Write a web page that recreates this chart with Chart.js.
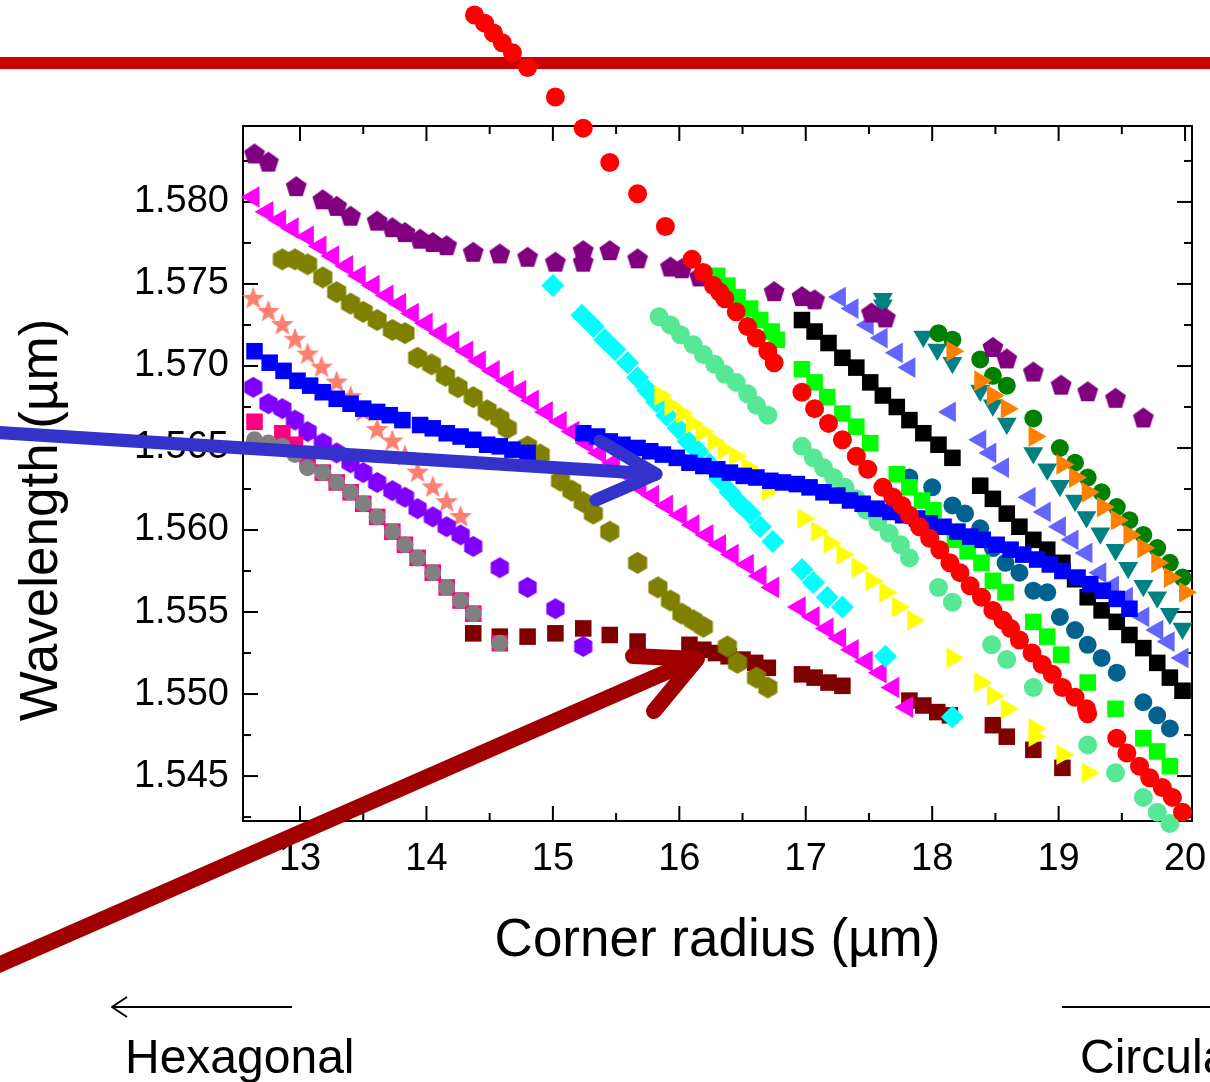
<!DOCTYPE html>
<html>
<head>
<meta charset="utf-8">
<script src="https://cdn.jsdelivr.net/npm/chart.js@4.4.1/dist/chart.umd.min.js"></script>
<style>
html,body{margin:0;padding:0;background:#fff;}
canvas{display:block;}
</style>
</head>
<body>
<canvas id="c" width="1210" height="1082"></canvas>
<script>
// ---------------- DATA (corner radius in µm, wavelength in µm) ----------------
const xTickValues = [13, 14, 15, 16, 17, 18, 19, 20];
const xMinorTickValues = [13.5, 14.5, 15.5, 16.5, 17.5, 18.5, 19.5];
const yTickValues = [1.545, 1.550, 1.555, 1.560, 1.565, 1.570, 1.575, 1.580];
const yMinorTickValues = [1.5425, 1.5475, 1.5525, 1.5575, 1.5625, 1.5675, 1.5725, 1.5775, 1.5825];

const purplePentagons = [[12.64,1.5829],[12.75,1.5824],[12.97,1.5809],[13.18,1.5801],[13.29,1.5797],[13.40,1.5791],[13.61,1.5788],[13.73,1.5784],[13.83,1.5781],[13.95,1.5777],[14.05,1.5775],[14.16,1.5773],[14.37,1.5769],[14.58,1.5768],[14.80,1.5766],[15.02,1.5763],[15.24,1.5770],[15.24,1.5763],[15.45,1.5770],[15.67,1.5765],[15.93,1.5760],[16.02,1.5759],[16.16,1.5754],[16.75,1.5745],[16.97,1.5742],[17.07,1.5740],[17.52,1.5732],[17.63,1.5729],[18.48,1.5711],[18.59,1.5704],[18.80,1.5696],[19.02,1.5688],[19.23,1.5684],[19.45,1.5680],[19.67,1.5668]];

const magentaTriangles = [[12.63,1.5803],[12.74,1.5794],[12.84,1.5789],[12.94,1.5784],[13.06,1.5779],[13.16,1.5773],[13.26,1.5767],[13.37,1.5761],[13.47,1.5755],[13.58,1.5749],[13.69,1.5743],[13.79,1.5738],[13.89,1.5732],[14.00,1.5726],[14.11,1.5720],[14.21,1.5715],[14.32,1.5709],[14.42,1.5703],[14.53,1.5697],[14.64,1.5691],[14.74,1.5685],[14.84,1.5679],[14.95,1.5672],[15.06,1.5666],[15.16,1.5660],[15.27,1.5653],[15.37,1.5647],[15.48,1.5641],[15.59,1.5634],[15.69,1.5626],[15.79,1.5621],[15.90,1.5615],[16.01,1.5609],[16.11,1.5603],[16.22,1.5597],[16.32,1.5591],[16.42,1.5585],[16.54,1.5579],[16.64,1.5572],[16.74,1.5565],[16.95,1.5553],[17.06,1.5547],[17.17,1.5540],[17.27,1.5534],[17.37,1.5527],[17.48,1.5520],[17.59,1.5513],[17.69,1.5504],[17.80,1.5492]];

const oliveHexagons = [[12.86,1.5765],[12.96,1.5765],[13.06,1.5762],[13.18,1.5754],[13.29,1.5745],[13.40,1.5738],[13.50,1.5733],[13.61,1.5728],[13.73,1.5722],[13.83,1.5720],[13.93,1.5705],[14.04,1.5701],[14.15,1.5694],[14.25,1.5687],[14.37,1.5681],[14.48,1.5673],[14.58,1.5668],[14.64,1.5662],[14.80,1.5651],[14.90,1.5646],[15.06,1.5630],[15.15,1.5624],[15.24,1.5617],[15.32,1.5610],[15.45,1.5599],[15.67,1.5580],[15.83,1.5565],[15.93,1.5557],[16.02,1.5549],[16.11,1.5545],[16.19,1.5541],[16.38,1.5529],[16.46,1.5519],[16.61,1.5510],[16.70,1.5504]];

const salmonStars = [[12.63,1.5741],[12.75,1.5733],[12.86,1.5725],[12.96,1.5716],[13.06,1.5707],[13.17,1.5699],[13.29,1.5690],[13.40,1.5681],[13.50,1.5672],[13.61,1.5661],[13.73,1.5654],[13.83,1.5645],[13.93,1.5635],[14.05,1.5626],[14.16,1.5617],[14.27,1.5608]];

const blueSquares = [[12.64,1.5709],[12.76,1.5702],[12.87,1.5697],[12.98,1.5691],[13.08,1.5688],[13.18,1.5684],[13.29,1.5680],[13.40,1.5677],[13.50,1.5674],[13.61,1.5672],[13.71,1.5670],[13.81,1.5667],[13.95,1.5664],[14.05,1.5662],[14.16,1.5659],[14.27,1.5657],[14.37,1.5655],[14.48,1.5652],[14.58,1.5651],[14.68,1.5649],[14.80,1.5647],
  [15.24,1.5659],[15.35,1.5657],[15.45,1.5654],[15.55,1.5652],[15.67,1.5650],[15.77,1.5648],[15.87,1.5646],[15.98,1.5644],[16.08,1.5641],[16.19,1.5639],[16.30,1.5637],[16.40,1.5635],[16.51,1.5633],[16.61,1.5632],[16.72,1.5630],[16.82,1.5629],
  [16.93,1.5628],[17.03,1.5626],[17.14,1.5623],[17.25,1.5621],[17.35,1.5618],[17.45,1.5616],[17.56,1.5613],[17.67,1.5611],[17.77,1.5609],[17.88,1.5607],[17.98,1.5604],[18.09,1.5602],[18.20,1.5599],[18.30,1.5596],[18.40,1.5594],[18.51,1.5591],[18.62,1.5588],[18.72,1.5585],[18.83,1.5582],[18.93,1.5579],[19.03,1.5575],[19.15,1.5571],[19.25,1.5567],[19.35,1.5563],[19.46,1.5558],[19.56,1.5552]];

const violetHexagons = [[12.63,1.5687],[12.75,1.5677],[12.86,1.5674],[12.96,1.5667],[13.06,1.5660],[13.18,1.5653],[13.29,1.5647],[13.40,1.5641],[13.50,1.5635],[13.61,1.5629],[13.73,1.5624],[13.83,1.5620],[13.93,1.5613],[14.05,1.5608],[14.16,1.5602],[14.27,1.5597],[14.37,1.5590],[14.58,1.5577],[14.80,1.5565],[15.02,1.5552],[15.24,1.5529]];

const pinkSquares = [[12.64,1.5666],[12.86,1.5659],[12.96,1.5652],[13.06,1.5643],[13.18,1.5635],[13.29,1.5629],[13.40,1.5623],[13.50,1.5616],[13.61,1.5608],[13.73,1.5599],[13.83,1.5591],[13.93,1.5583],[14.05,1.5574],[14.16,1.5565],[14.27,1.5557],[14.37,1.5549],[14.58,1.5531]];

const grayCircles = [[12.64,1.5655],[12.75,1.5653],[12.86,1.5651],[12.96,1.5646],[13.06,1.5638],[13.18,1.5635],[13.29,1.5629],[13.40,1.5623],[13.50,1.5616],[13.61,1.5608],[13.73,1.5599],[13.83,1.5591],[13.93,1.5583],[14.05,1.5574],[14.16,1.5565],[14.27,1.5557],[14.37,1.5549],[14.58,1.5531]];

const maroonSquares = [[14.37,1.5537],[14.58,1.5535],[14.80,1.5535],[15.02,1.5537],[15.24,1.5540],[15.45,1.5536],[15.67,1.5532],[16.08,1.5530],[16.19,1.5527],[16.29,1.5525],[16.39,1.5523],[16.50,1.5521],[16.60,1.5519],[16.70,1.5516],[16.97,1.5512],[17.07,1.5510],[17.18,1.5507],[17.29,1.5505],[17.82,1.5496],[17.93,1.5493],[18.04,1.5489],[18.14,1.5487],[18.48,1.5481],[18.59,1.5474],[18.80,1.5466],[19.03,1.5455]];

const cyanDiamonds = [[15.00,1.5749],[15.23,1.5731],[15.32,1.5724],[15.41,1.5716],[15.49,1.5710],[15.59,1.5702],[15.67,1.5693],[15.75,1.5685],[15.82,1.5678],[15.90,1.5670],[15.99,1.5662],[16.07,1.5654],[16.15,1.5648],[16.24,1.5640],[16.32,1.5631],[16.40,1.5623],[16.48,1.5616],[16.56,1.5610],[16.64,1.5602],[16.74,1.5593],[16.97,1.5576],[17.06,1.5568],[17.17,1.5559],[17.29,1.5553],[17.63,1.5523],[18.16,1.5486]];

const redCircles = [[14.38,1.5914],[14.46,1.5909],[14.53,1.5903],[14.60,1.5897],[14.68,1.5891],[14.80,1.5882],[15.02,1.5864],[15.24,1.5845],[15.45,1.5824],[15.67,1.5805],[15.89,1.5785],[16.10,1.5765],[16.19,1.5757],[16.27,1.5749],[16.32,1.5745],[16.36,1.5741],[16.45,1.5733],[16.54,1.5724],[16.61,1.5717],[16.70,1.5709],[16.75,1.5702],
  [16.97,1.5684],[17.07,1.5674],[17.18,1.5665],[17.29,1.5655],[17.40,1.5645],[17.49,1.5637],[17.61,1.5626],[17.69,1.5620],[17.76,1.5615],[17.82,1.5609],[17.90,1.5602],[17.98,1.5595],[18.06,1.5588],[18.14,1.5580],[18.22,1.5574],[18.30,1.5566],[18.39,1.5559],[18.48,1.5551],[18.56,1.5545],[18.62,1.5540],[18.69,1.5533],[18.79,1.5525],[18.87,1.5518],[18.95,1.5512],[19.03,1.5504],[19.13,1.5498],[19.22,1.5491],[19.23,1.5488],
  [19.46,1.5473],[19.54,1.5464],[19.64,1.5456],[19.72,1.5449],[19.82,1.5443],[19.90,1.5437],[19.98,1.5428]];

const greenSquares = [[16.30,1.5755],[16.38,1.5749],[16.46,1.5742],[16.56,1.5735],[16.64,1.5728],[16.73,1.5721],[16.77,1.5716],[16.97,1.5698],[17.07,1.5690],[17.17,1.5681],[17.29,1.5671],[17.40,1.5663],[17.51,1.5653],[17.72,1.5634],[17.82,1.5626],[17.92,1.5618],[18.01,1.5612],[18.18,1.5594],[18.28,1.5587],[18.39,1.5580],[18.48,1.5569],[18.58,1.5562],[18.80,1.5544],[18.91,1.5535],[19.02,1.5524],[19.23,1.5507],[19.45,1.5491],[19.67,1.5473],[19.78,1.5465],[19.88,1.5456]];

const aquaCircles = [[15.84,1.5730],[15.93,1.5725],[16.01,1.5719],[16.11,1.5713],[16.19,1.5707],[16.28,1.5701],[16.36,1.5695],[16.45,1.5690],[16.54,1.5683],[16.61,1.5676],[16.70,1.5670],[16.97,1.5651],[17.06,1.5644],[17.14,1.5638],[17.22,1.5632],[17.31,1.5626],[17.40,1.5619],[17.48,1.5612],[17.57,1.5605],[17.66,1.5598],[17.75,1.5591],[17.82,1.5583],[18.05,1.5565],[18.16,1.5556],[18.47,1.5530],[18.59,1.5521],[18.80,1.5504],[19.23,1.5469],[19.45,1.5452],[19.67,1.5437],[19.78,1.5428],[19.88,1.5421]];

const yellowTriangles = [[15.85,1.5682],[15.93,1.5676],[16.02,1.5671],[16.10,1.5665],[16.18,1.5660],[16.27,1.5654],[16.35,1.5649],[16.44,1.5645],[16.54,1.5638],[16.61,1.5633],[16.70,1.5624],[16.98,1.5607],[17.09,1.5599],[17.19,1.5592],[17.29,1.5585],[17.41,1.5577],[17.52,1.5569],[17.63,1.5562],[17.73,1.5553],[17.85,1.5545],[18.16,1.5522],[18.38,1.5507],[18.48,1.5499],[18.59,1.5491],[18.81,1.5479],[18.81,1.5474],[19.03,1.5463],[19.23,1.5452]];

const blackSquares = [[16.97,1.5728],[17.07,1.5721],[17.18,1.5714],[17.29,1.5705],[17.40,1.5699],[17.51,1.5690],[17.61,1.5682],[17.72,1.5675],[17.82,1.5667],[17.93,1.5659],[18.05,1.5652],[18.16,1.5644],[18.38,1.5627],[18.48,1.5619],[18.59,1.5610],[18.69,1.5602],[18.80,1.5594],[18.91,1.5588],[19.03,1.5580],[19.13,1.5570],[19.23,1.5559],[19.34,1.5551],[19.46,1.5544],[19.56,1.5536],[19.67,1.5528],[19.78,1.5519],[19.88,1.5510],[19.98,1.5502]];

const slateTriangles = [[17.27,1.5742],[17.37,1.5735],[17.49,1.5725],[17.60,1.5717],[17.72,1.5708],[17.82,1.5699],[18.14,1.5672],[18.38,1.5655],[18.46,1.5647],[18.56,1.5638],[18.77,1.5620],[18.89,1.5611],[19.01,1.5602],[19.11,1.5594],[19.22,1.5586],[19.33,1.5574],[19.43,1.5566],[19.54,1.5559],[19.67,1.5547],[19.78,1.5539],[19.87,1.5532],[19.98,1.5522]];

const tealTriangles = [[17.61,1.5741],[17.61,1.5737],[17.93,1.5718],[18.04,1.5710],[18.16,1.5702],[18.38,1.5685],[18.48,1.5676],[18.59,1.5665],[18.80,1.5647],[18.91,1.5637],[19.01,1.5627],[19.13,1.5618],[19.22,1.5608],[19.33,1.5598],[19.45,1.5588],[19.55,1.5577],[19.67,1.5566],[19.78,1.5559],[19.88,1.5549],[19.98,1.5540]];

const darkGreenCircles = [[18.05,1.5720],[18.16,1.5716],[18.38,1.5704],[18.48,1.5694],[18.59,1.5688],[18.80,1.5668],[19.01,1.5650],[19.13,1.5641],[19.23,1.5632],[19.34,1.5623],[19.46,1.5614],[19.56,1.5606],[19.67,1.5597],[19.78,1.5589],[19.88,1.5580],[19.98,1.5571]];

const orangeTriangles = [[18.16,1.5709],[18.38,1.5691],[18.48,1.5682],[18.59,1.5674],[18.81,1.5657],[19.03,1.5640],[19.13,1.5632],[19.23,1.5623],[19.35,1.5614],[19.46,1.5606],[19.56,1.5597],[19.67,1.5589],[19.78,1.5580],[19.88,1.5571],[20.00,1.5562]];

const ceruleanCircles = [[17.82,1.5632],[18.00,1.5626],[18.16,1.5615],[18.26,1.5610],[18.38,1.5601],[18.48,1.5589],[18.58,1.5580],[18.69,1.5574],[18.80,1.5563],[18.91,1.5562],[19.01,1.5547],[19.13,1.5539],[19.23,1.5530],[19.34,1.5522],[19.46,1.5513],[19.67,1.5495],[19.78,1.5487],[19.88,1.5479]];

// ---------------- STYLING ----------------
const FONT = "'Liberation Sans', Arial, Helvetica, sans-serif";

function polygonMarker(sides, radius, color) {
  const size = Math.ceil(radius * 2 + 2);
  const c = document.createElement('canvas');
  c.width = size; c.height = size;
  const g = c.getContext('2d');
  g.fillStyle = color;
  g.beginPath();
  for (let i = 0; i < sides; i++) {
    const a = -Math.PI / 2 + i * 2 * Math.PI / sides;
    const px = size / 2 + radius * Math.cos(a), py = size / 2 + radius * Math.sin(a);
    if (i === 0) g.moveTo(px, py); else g.lineTo(px, py);
  }
  g.closePath(); g.fill();
  return c;
}
function starMarker(outer, inner, color) {
  const size = Math.ceil(outer * 2 + 2);
  const c = document.createElement('canvas');
  c.width = size; c.height = size;
  const g = c.getContext('2d');
  g.fillStyle = color;
  g.beginPath();
  for (let i = 0; i < 10; i++) {
    const r = i % 2 === 0 ? outer : inner;
    const a = -Math.PI / 2 + i * Math.PI / 5;
    const px = size / 2 + r * Math.cos(a), py = size / 2 + r * Math.sin(a);
    if (i === 0) g.moveTo(px, py); else g.lineTo(px, py);
  }
  g.closePath(); g.fill();
  return c;
}

// first entry is drawn on top
const seriesDefs = [
  {name: 'Gray circles', pts: grayCircles, color: '#808080', style: 'circle', r: 8.5},
  {name: 'Red circles', pts: redCircles, color: '#ff0000', style: 'circle', r: 9.5},
  {name: 'Blue squares', pts: blueSquares, color: '#0000ff', style: 'rect', r: 11.7},
  {name: 'Yellow triangles', pts: yellowTriangles, color: '#ffff00', style: 'triangle', r: 12, rot: 90},
  {name: 'Cyan diamonds', pts: cyanDiamonds, color: '#00ffff', style: 'rectRot', r: 11.5},
  {name: 'Black squares', pts: blackSquares, color: '#000000', style: 'rect', r: 11.7},
  {name: 'Green squares', pts: greenSquares, color: '#00ff00', style: 'rect', r: 11.7},
  {name: 'Aquamarine circles', pts: aquaCircles, color: '#57e895', style: 'circle', r: 9.5},
  {name: 'Pink squares', pts: pinkSquares, color: '#ff0080', style: 'rect', r: 11.7},
  {name: 'Violet hexagons', pts: violetHexagons, color: '#8000ff', marker: () => polygonMarker(6, 10.5, '#8000ff')},
  {name: 'Olive hexagons', pts: oliveHexagons, color: '#808000', marker: () => polygonMarker(6, 11, '#808000')},
  {name: 'Magenta triangles', pts: magentaTriangles, color: '#ff00ff', style: 'triangle', r: 12.5, rot: 270},
  {name: 'Salmon stars', pts: salmonStars, color: '#fa8072', marker: () => starMarker(12, 5, '#fa8072')},
  {name: 'Maroon squares', pts: maroonSquares, color: '#800000', style: 'rect', r: 11.7},
  {name: 'Purple pentagons', pts: purplePentagons, color: '#800080', marker: () => polygonMarker(5, 11, '#800080')},
  {name: 'Orange triangles', pts: orangeTriangles, color: '#ff8000', style: 'triangle', r: 12, rot: 90},
  {name: 'Dark green circles', pts: darkGreenCircles, color: '#008000', style: 'circle', r: 9},
  {name: 'Teal triangles', pts: tealTriangles, color: '#008080', style: 'triangle', r: 11.5, rot: 180},
  {name: 'Slate blue triangles', pts: slateTriangles, color: '#6464ff', style: 'triangle', r: 12, rot: 270},
  {name: 'Cerulean circles', pts: ceruleanCircles, color: '#00638f', style: 'circle', r: 9}
];

const datasets = seriesDefs.map(s => ({
  label: s.name,
  data: s.pts.map(([x, y]) => ({x, y})),
  pointStyle: s.marker ? s.marker() : s.style,
  pointRadius: s.r || 10,
  pointHoverRadius: s.r || 10,
  pointRotation: s.rot || 0,
  backgroundColor: s.color,
  pointBackgroundColor: s.color,
  borderColor: s.color,
  pointBorderWidth: 0,
  borderWidth: 0,
  showLine: false,
  clip: false
}));

// ---------------- DECORATIONS ----------------
function seg(ctx, x1, y1, x2, y2) { ctx.beginPath(); ctx.moveTo(x1, y1); ctx.lineTo(x2, y2); ctx.stroke(); }

const framePlugin = {
  id: 'framePlugin',
  beforeDatasetsDraw(chart) {
    const {ctx, chartArea: a, scales: {x, y}} = chart;
    ctx.save();
    // red horizontal band across the top
    ctx.fillStyle = '#cc0000';
    ctx.fillRect(0, 57, chart.width, 12);
    // frame
    ctx.strokeStyle = '#000';
    ctx.lineWidth = 2;
    ctx.strokeRect(a.left, a.top, a.right - a.left, a.bottom - a.top);
    // inward ticks on all four sides
    const major = 15, minor = 8;
    xTickValues.forEach(v => { const p = x.getPixelForValue(v); seg(ctx, p, a.bottom, p, a.bottom - major); seg(ctx, p, a.top, p, a.top + major); });
    xMinorTickValues.forEach(v => { const p = x.getPixelForValue(v); seg(ctx, p, a.bottom, p, a.bottom - minor); seg(ctx, p, a.top, p, a.top + minor); });
    yTickValues.forEach(v => { const p = y.getPixelForValue(v); seg(ctx, a.left, p, a.left + major, p); seg(ctx, a.right, p, a.right - major, p); });
    yMinorTickValues.forEach(v => { const p = y.getPixelForValue(v); seg(ctx, a.left, p, a.left + minor, p); seg(ctx, a.right, p, a.right - minor, p); });
    // y axis title
    ctx.fillStyle = '#000';
    ctx.font = '53px ' + FONT;
    ctx.textAlign = 'center';
    ctx.textBaseline = 'middle';
    ctx.translate(42, 520);
    ctx.rotate(-Math.PI / 2);
    ctx.fillText('Wavelength (µm)', 0, 0);
    ctx.restore();
  },
  afterDatasetsDraw(chart) {
    // points whose values lie beyond the axis range (e.g. the red mode above the frame)
    const a = chart.chartArea;
    const whole = {left: 0, top: 0, right: chart.width, bottom: chart.height};
    chart.data.datasets.forEach((ds, i) => {
      chart.getDatasetMeta(i).data.forEach(el => {
        const m = el.size ? el.size(el.options) / 2 : 0;
        const inside = el.x > a.left - m && el.x < a.right + m && el.y > a.top - m && el.y < a.bottom + m;
        if (!inside) el.draw(chart.ctx, whole);
      });
    });
  },
  afterDraw(chart) {
    const ctx = chart.ctx;
    ctx.save();
    ctx.lineCap = 'round';
    ctx.lineJoin = 'round';
    // blue arrow
    ctx.strokeStyle = '#3333cc';
    ctx.lineWidth = 13;
    seg(ctx, -10, 432, 656, 474);
    ctx.beginPath(); ctx.moveTo(600, 441); ctx.lineTo(656, 474); ctx.lineTo(596, 500); ctx.stroke();
    // dark red arrow
    ctx.strokeStyle = '#a00000';
    ctx.lineWidth = 16;
    seg(ctx, -20, 973, 694, 660);
    ctx.beginPath(); ctx.moveTo(633, 656); ctx.lineTo(697, 659); ctx.lineTo(654, 711); ctx.stroke();
    // bottom annotations
    ctx.lineCap = 'butt';
    ctx.strokeStyle = '#000';
    ctx.lineWidth = 2;
    seg(ctx, 112, 1007, 292, 1007);
    ctx.beginPath(); ctx.moveTo(127, 997); ctx.lineTo(112, 1007); ctx.lineTo(127, 1017); ctx.stroke();
    seg(ctx, 1062, 1007, 1215, 1007);
    ctx.fillStyle = '#000';
    ctx.font = '48px ' + FONT;
    ctx.textAlign = 'left';
    ctx.textBaseline = 'alphabetic';
    ctx.fillText('Hexagonal', 125, 1073);
    ctx.fillText('Circular', 1080, 1073);
    ctx.restore();
  }
};

new Chart(document.getElementById('c'), {
  type: 'scatter',
  data: {datasets},
  options: {
    responsive: false,
    animation: false,
    devicePixelRatio: 1,
    layout: {padding: {top: 126, right: 18, left: 0, bottom: 0}},
    plugins: {legend: {display: false}, tooltip: {enabled: false}},
    scales: {
      x: {
        type: 'linear',
        min: 12.549, max: 20.055,
        grid: {display: false, drawTicks: false},
        border: {display: false},
        ticks: {
          font: {family: FONT, size: 38}, color: '#000', padding: 16,
          autoSkip: false, maxRotation: 0, includeBounds: false,
          callback: v => String(v)
        },
        afterBuildTicks: s => { s.ticks = xTickValues.map(v => ({value: v})); },
        afterFit: s => { s.height = 261; s.paddingLeft = 0; s.paddingRight = 0; },
        title: {display: true, text: 'Corner radius (µm)', color: '#000', font: {family: FONT, size: 53}, padding: {top: 0, bottom: 109}}
      },
      y: {
        type: 'linear',
        min: 1.54226, max: 1.58463,
        grid: {display: false, drawTicks: false},
        border: {display: false},
        ticks: {
          font: {family: FONT, size: 38}, color: '#000', padding: 14,
          autoSkip: false, includeBounds: false,
          callback: v => Number(v).toFixed(3)
        },
        afterBuildTicks: s => { s.ticks = yTickValues.map(v => ({value: v})); },
        afterFit: s => { s.width = 243; s.paddingTop = 0; s.paddingBottom = 0; }
      }
    }
  },
  plugins: [framePlugin]
});
</script>
</body>
</html>
